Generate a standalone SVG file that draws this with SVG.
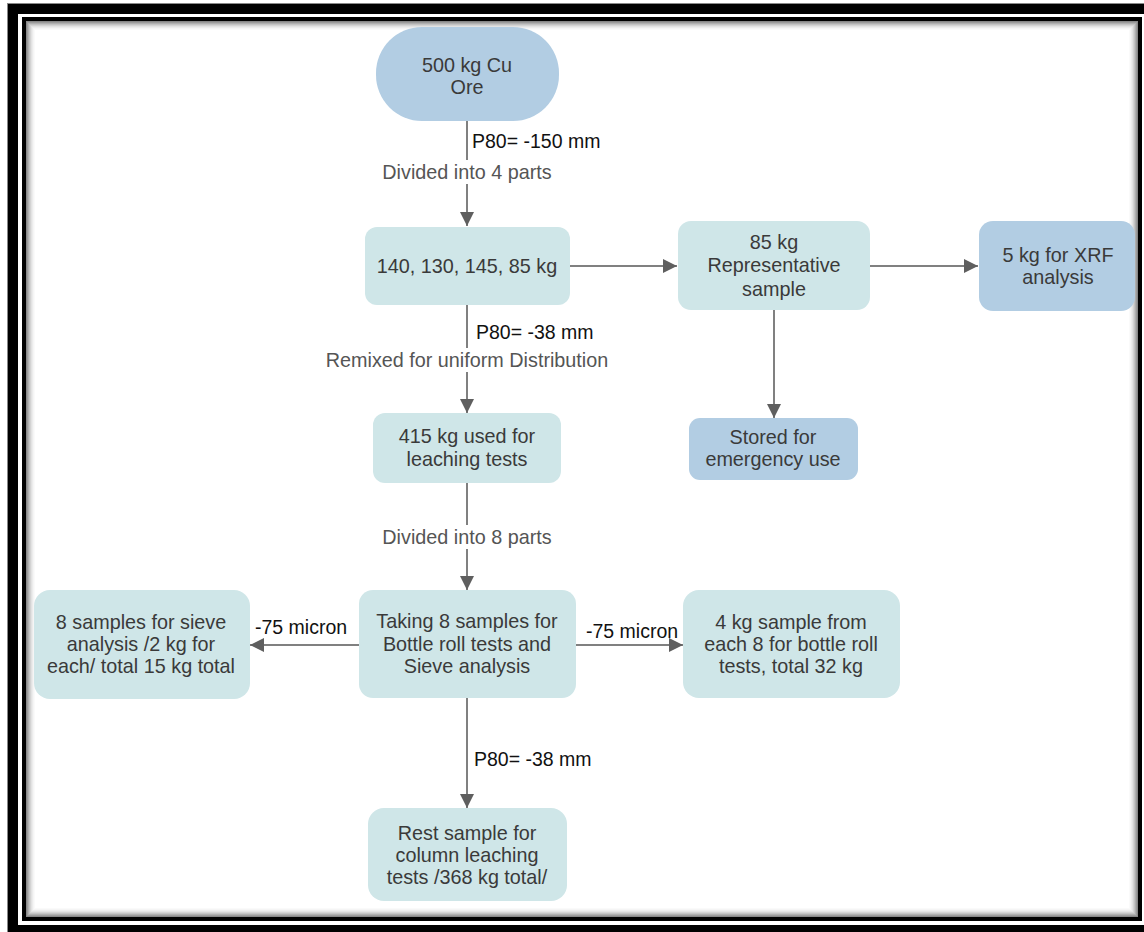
<svg xmlns="http://www.w3.org/2000/svg" width="1144" height="932" viewBox="0 0 1144 932">
<defs>
<style>
.teal{fill:#cfe6e8;}
.blue{fill:#b2cde3;}
.nt{font-family:"Liberation Sans",Arial,sans-serif;font-size:19.8px;fill:#3a3a3a;text-anchor:middle;}
.el{font-family:"Liberation Sans",Arial,sans-serif;font-size:19.5px;fill:#111;}
.gl{font-family:"Liberation Sans",Arial,sans-serif;font-size:19.8px;fill:#555;text-anchor:middle;}
.ln{stroke:#808080;stroke-width:2;fill:none;marker-end:url(#ah);}
.sh{fill:none;stroke:#7a7a7a;}
</style>
<marker id="ah" viewBox="0 0 10 10" refX="10" refY="5" markerWidth="7" markerHeight="7" markerUnits="strokeWidth" orient="auto">
<path d="M0,0 L10,5 L0,10 z" fill="#5f5f5f"/>
</marker>
</defs>
<rect width="1144" height="932" fill="#ffffff"/>
<g id="frame">
<rect x="7.5" y="3.5" width="1150" height="940" fill="#000" stroke="#888"/>
<rect x="18" y="14" width="1126" height="911" fill="#fff"/>
<rect x="22" y="17" width="1120" height="904" fill="#000"/>
<rect x="26" y="21" width="1112" height="896" fill="#fff"/>
<rect class="sh" x="26.5" y="21.5" width="1111" height="895" stroke-opacity="0.9"/>
<rect class="sh" x="27.5" y="22.5" width="1109" height="893" stroke-opacity="0.75"/>
<rect class="sh" x="28.5" y="23.5" width="1107" height="891" stroke-opacity="0.6"/>
<rect class="sh" x="29.5" y="24.5" width="1105" height="889" stroke-opacity="0.45"/>
<rect class="sh" x="30.5" y="25.5" width="1103" height="887" stroke-opacity="0.33"/>
<rect class="sh" x="31.5" y="26.5" width="1101" height="885" stroke-opacity="0.22"/>
<rect class="sh" x="32.5" y="27.5" width="1099" height="883" stroke-opacity="0.14"/>
<rect class="sh" x="33.5" y="28.5" width="1097" height="881" stroke-opacity="0.08"/>
<rect class="sh" x="34.5" y="29.5" width="1095" height="879" stroke-opacity="0.04"/>
</g>
<g id="connectors">
<line class="ln" x1="467" y1="121" x2="467" y2="226"/>
<line class="ln" x1="467" y1="305" x2="467" y2="413"/>
<line class="ln" x1="467" y1="483" x2="467" y2="590"/>
<line class="ln" x1="467" y1="698" x2="467" y2="808"/>
<line class="ln" x1="570" y1="266" x2="677" y2="266"/>
<line class="ln" x1="870" y1="266" x2="978" y2="266"/>
<line class="ln" x1="774" y1="310" x2="774" y2="418"/>
<line class="ln" x1="359" y1="645" x2="250" y2="645"/>
<line class="ln" x1="576" y1="645" x2="683" y2="645"/>
<rect x="372" y="160" width="190" height="24" fill="#fff"/>
<text class="gl" x="467" y="179">Divided into 4 parts</text>
<text class="el" x="472" y="148">P80= -150 mm</text>
<rect x="318" y="348" width="298" height="24" fill="#fff"/>
<text class="gl" x="467" y="367">Remixed for uniform Distribution</text>
<text class="el" x="476" y="339">P80= -38 mm</text>
<rect x="372" y="525" width="190" height="24" fill="#fff"/>
<text class="gl" x="467" y="544">Divided into 8 parts</text>
<text class="el" x="255" y="634">-75 micron</text>
<text class="el" x="586" y="638">-75 micron</text>
<text class="el" x="474" y="766">P80= -38 mm</text>
</g>
<g id="n1">
<rect class="blue" x="376" y="27" width="183" height="94" rx="46"/>
<text class="nt" x="467" y="72">500 kg Cu</text>
<text class="nt" x="467" y="94">Ore</text>
</g>
<g id="n2">
<rect class="teal" x="365" y="227" width="205" height="78" rx="12"/>
<text class="nt" x="467" y="273">140, 130, 145, 85 kg</text>
</g>
<g id="n3">
<rect class="teal" x="678" y="221" width="192" height="89" rx="13"/>
<text class="nt" x="774" y="249">85 kg</text>
<text class="nt" x="774" y="272">Representative</text>
<text class="nt" x="774" y="296">sample</text>
</g>
<g id="n4">
<rect class="blue" x="979" y="221" width="156" height="90" rx="14"/>
<text class="nt" x="1058" y="262">5 kg for XRF</text>
<text class="nt" x="1058" y="284">analysis</text>
</g>
<g id="n5">
<rect class="blue" x="689" y="418" width="169" height="62" rx="11"/>
<text class="nt" x="773" y="444">Stored for</text>
<text class="nt" x="773" y="466">emergency use</text>
</g>
<g id="n6">
<rect class="teal" x="373" y="413" width="188" height="70" rx="12"/>
<text class="nt" x="467" y="443">415 kg used for</text>
<text class="nt" x="467" y="466">leaching tests</text>
</g>
<g id="n7">
<rect class="teal" x="359" y="590" width="217" height="108" rx="14"/>
<text class="nt" x="467" y="628">Taking 8 samples for</text>
<text class="nt" x="467" y="651">Bottle roll tests and</text>
<text class="nt" x="467" y="673">Sieve analysis</text>
</g>
<g id="n8">
<rect class="teal" x="34" y="590" width="216" height="109" rx="16"/>
<text class="nt" x="141" y="629">8 samples for sieve</text>
<text class="nt" x="141" y="651">analysis /2 kg for</text>
<text class="nt" x="141" y="673">each/ total 15 kg total</text>
</g>
<g id="n9">
<rect class="teal" x="683" y="590" width="217" height="108" rx="16"/>
<text class="nt" x="791" y="629">4 kg sample from</text>
<text class="nt" x="791" y="651">each 8 for bottle roll</text>
<text class="nt" x="791" y="673">tests, total 32 kg</text>
</g>
<g id="n10">
<rect class="teal" x="368" y="808" width="199" height="93" rx="16"/>
<text class="nt" x="467" y="840">Rest sample for</text>
<text class="nt" x="467" y="862">column leaching</text>
<text class="nt" x="467" y="884">tests /368 kg total/</text>
</g>
</svg>
